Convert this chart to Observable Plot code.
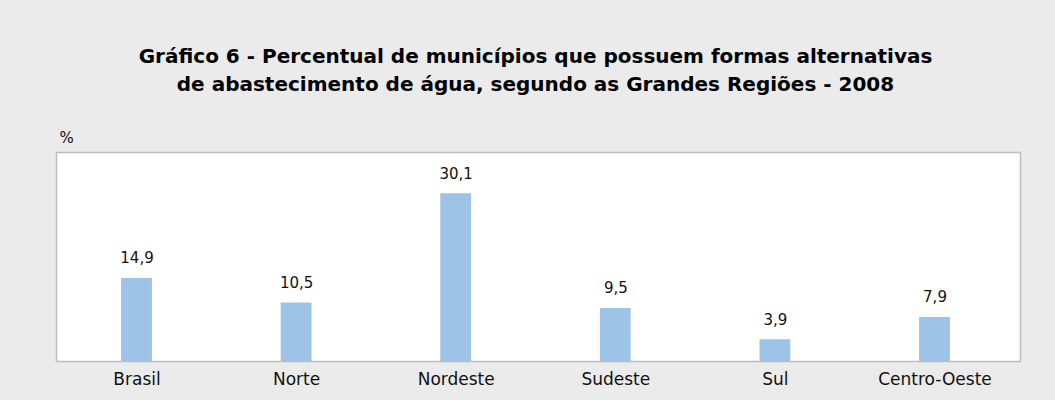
<!DOCTYPE html>
<html>
<head>
<meta charset="utf-8">
<script src="https://cdn.jsdelivr.net/npm/d3@7"></script>
<script src="https://cdn.jsdelivr.net/npm/@observablehq/plot@0.6"></script>
<style>
  html, body { margin: 0; padding: 0; background: #ebebeb; }
  body { width: 1055px; height: 400px; overflow: hidden; font-family: "DejaVu Sans", sans-serif; }
  #title { box-sizing: border-box; height: 110px; padding-top: 42px; padding-left: 16px; text-align: center;
           font-size: 20px; line-height: 28px; font-weight: bold; color: #000; }
  svg { display: block; }
</style>
</head>
<body>
<div id="title">Gráfico 6 - Percentual de municípios que possuem formas alternativas<br>de abastecimento de água, segundo as Grandes Regiões - 2008</div>
<div id="chart"></div>
<script>
const categories = ["Brasil", "Norte", "Nordeste", "Sudeste", "Sul", "Centro-Oeste"];
const values = [14.9, 10.5, 30.1, 9.5, 3.9, 7.9];
const yUnit = "%";

const data = categories.map((c, i) => ({region: c, value: values[i]}));
const fmt = v => v.toFixed(1).replace(".", ",");

const chart = Plot.plot({
  width: 1055,
  height: 290,
  marginLeft: 56,
  marginRight: 35,
  marginTop: 42,
  marginBottom: 39,
  style: {background: "transparent", fontFamily: "DejaVu Sans, sans-serif", color: "#111"},
  x: {domain: categories, range: [56.7, 1014.3], paddingInner: 0.807, paddingOuter: 0.4035, round: false, label: null},
  y: {domain: [0, 37.5], axis: null},
  marks: [
    Plot.frame({fill: "white", stroke: "#bdbdbd", strokeWidth: 1.5}),
    Plot.barY(data, {x: "region", y: "value", fill: "#9dc3e6"}),
    Plot.text(data, {x: "region", y: "value", text: d => fmt(d.value), dy: -20, fontSize: 15, fill: "#111"}),
    Plot.text([yUnit], {frameAnchor: "top-left", text: d => d, textAnchor: "start", lineAnchor: "bottom", dx: 3, dy: -10, fontSize: 15, fill: "#111"}),
    Plot.axisX({tickSize: 0, tickPadding: 11, fontSize: 17, label: null})
  ]
});
document.getElementById("chart").appendChild(chart);
</script>
</body>
</html>
